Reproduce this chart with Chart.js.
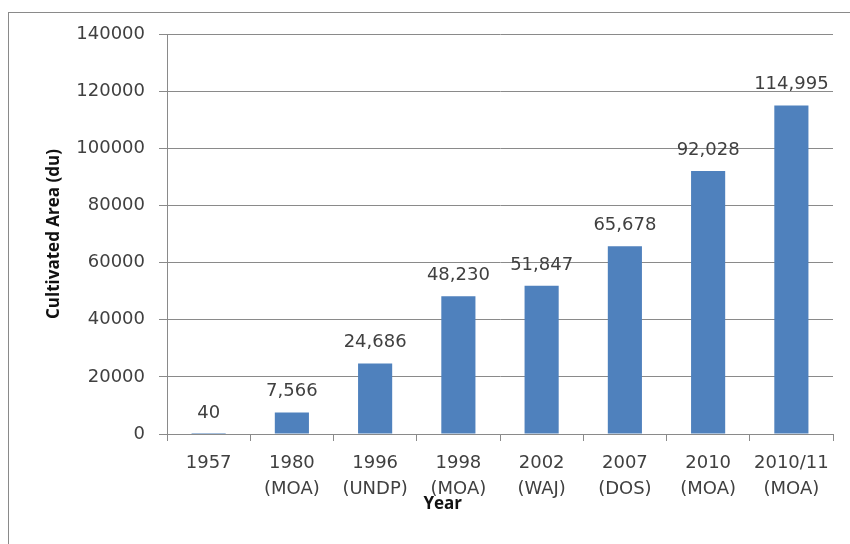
<!DOCTYPE html>
<html>
<head>
<meta charset="utf-8">
<script src="https://cdn.jsdelivr.net/npm/chart.js@4"></script>
<style>
  body { margin: 0; background: #fff; overflow: hidden; }
  #wrap { position: relative; width: 850px; height: 544px; }
  #frame { position: absolute; left: 8px; top: 12px; width: 900px; height: 600px; border: 1px solid #8a8a8a; }
  canvas { position: absolute; left: 0; top: 0; }
</style>
</head>
<body>
<div id="wrap">
  <div id="frame"></div>
  <canvas id="areaChart" width="850" height="544"></canvas>
</div>
<script>
const years = [['1957'], ['1980', '(MOA)'], ['1996', '(UNDP)'], ['1998', '(MOA)'], ['2002', '(WAJ)'], ['2007', '(DOS)'], ['2010', '(MOA)'], ['2010/11', '(MOA)']];
const area = [40, 7566, 24686, 48230, 51847, 65678, 92028, 114995];
const yTicks = [0, 20000, 40000, 60000, 80000, 100000, 120000, 140000];

const tickFont = { family: 'DejaVu Sans', size: 18 };
const textColor = '#404040';

// draws the value above each bar, plus the "Year" title
const barLabels = {
  id: 'barLabels',
  afterDatasetsDraw(chart) {
    const ctx = chart.ctx;
    const meta = chart.getDatasetMeta(0);
    ctx.save();
    ctx.font = '18px "DejaVu Sans"';
    ctx.fillStyle = textColor;
    ctx.textAlign = 'center';
    ctx.textBaseline = 'middle';
    meta.data.forEach((bar, i) => {
      ctx.fillText(area[i].toLocaleString('en-US'), bar.x, bar.y - 21);
    });
    const x = chart.scales.x;
    ctx.font = 'bold 17px "Open Sans"';
    ctx.fillStyle = '#111';
    ctx.fillText('Year', x.left + (x.right - x.left) * 0.414, 504);
    ctx.restore();
  }
};

new Chart(document.getElementById('areaChart'), {
  type: 'bar',
  data: {
    labels: years,
    datasets: [{
      data: area,
      backgroundColor: '#4f81bd',
      barPercentage: 0.82,
      categoryPercentage: 0.5
    }]
  },
  options: {
    responsive: false,
    animation: false,
    layout: { padding: { left: 10, top: 34, right: 17 } },
    plugins: { legend: { display: false }, tooltip: { enabled: false } },
    scales: {
      x: {
        afterFit: s => { s.height = 110; },
        grid: { drawOnChartArea: false, tickLength: 7, color: '#8a8a8a' },
        border: { color: '#8a8a8a' },
        ticks: { font: { ...tickFont, lineHeight: 1.45 }, color: textColor, padding: 9, maxRotation: 0, autoSkip: false }
      },
      y: {
        min: 0,
        max: 140000,
        afterFit: s => { s.width = 157; },
        afterBuildTicks: s => { s.ticks = yTicks.map(v => ({ value: v })); },
        grid: { color: '#8a8a8a', tickLength: 8 },
        border: { color: '#8a8a8a' },
        ticks: { font: tickFont, color: textColor, padding: 14, callback: v => String(v) },
        title: { display: true, text: 'Cultivated Area (du)', font: { family: 'Open Sans', size: 17, weight: 'bold' }, color: '#111', padding: { top: 34, bottom: 0 } }
      }
    }
  },
  plugins: [barLabels]
});
</script>
</body>
</html>
